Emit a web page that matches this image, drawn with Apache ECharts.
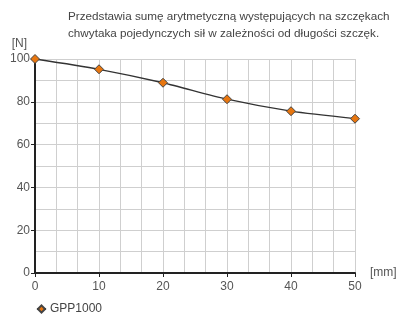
<!DOCTYPE html>
<html>
<head>
<meta charset="utf-8">
<script src="https://cdn.jsdelivr.net/npm/echarts@6/dist/echarts.min.js"></script>
<style>
  html, body { margin: 0; padding: 0; background: #fff; }
  #chart { width: 401px; height: 315px; }
</style>
</head>
<body>
<div id="chart"></div>
<script>
const lengths = [0, 10, 20, 30, 40, 50];
const forces = [100, 95.2, 88.9, 81.2, 75.6, 72.1];
const seriesName = 'GPP1000';
const titleLines = [
  'Przedstawia sumę arytmetyczną występujących na szczękach',
  'chwytaka pojedynczych sił w zależności od długości szczęk.'
];

let chart = echarts.init(document.getElementById('chart'));

const gridColor = '#cfcfcf';
const labelColor = '#555';

const option = {
  animation: false,
  textStyle: { fontFamily: 'Liberation Sans, Arial, sans-serif' },
  title: {
    text: titleLines.join('\n'),
    left: 63,
    top: 3,
    textStyle: { fontSize: 11.7, fontWeight: 'normal', color: '#444', lineHeight: 17 }
  },
  legend: {
    data: [seriesName],
    left: 31,
    top: 298,
    itemWidth: 9,
    itemHeight: 9,
    itemGap: 4,
    textStyle: { fontSize: 12, color: '#444', padding: [0, 0, 0, -1] }
  },
  grid: { left: 35, right: 46, top: 59, bottom: 42, containLabel: false },
  xAxis: {
    type: 'value',
    min: 0,
    max: 50,
    interval: 10,
    name: '[mm]',
    nameLocation: 'end',
    nameGap: 15,
    nameTextStyle: { fontSize: 12, color: labelColor, padding: [0, 0, 3, 0] },
    axisLine: { show: true, onZero: false, lineStyle: { color: '#222', width: 2 } },
    axisTick: { show: true, length: 4, lineStyle: { color: '#222', width: 1 } },
    axisLabel: { fontSize: 12, color: labelColor, margin: 8 },
    splitLine: { show: true, lineStyle: { color: gridColor, width: 1 } },
    minorTick: { show: false, splitNumber: 3 },
    minorSplitLine: { show: true, lineStyle: { color: gridColor, width: 1 } }
  },
  yAxis: {
    type: 'value',
    min: 0,
    max: 100,
    interval: 20,
    name: '[N]',
    nameLocation: 'end',
    nameGap: 9,
    nameTextStyle: { fontSize: 12, color: labelColor, align: 'right', padding: [0, 8, 0, 0] },
    axisLine: { show: true, lineStyle: { color: '#222', width: 2 } },
    axisTick: { show: true, length: 4, lineStyle: { color: '#222', width: 1 } },
    axisLabel: { fontSize: 12, color: labelColor, margin: 5 },
    splitLine: { show: true, lineStyle: { color: gridColor, width: 1 } },
    minorTick: { show: false, splitNumber: 2 },
    minorSplitLine: { show: true, lineStyle: { color: gridColor, width: 1 } }
  },
  series: [{
    name: seriesName,
    type: 'line',
    data: lengths.map((x, i) => [x, forces[i]]),
    smooth: 0.25,
    symbol: 'diamond',
    symbolSize: 9,
    itemStyle: { color: '#e8760f', borderColor: '#444', borderWidth: 1 },
    lineStyle: { color: '#333', width: 1.3 },
    z: 3
  }]
};

chart.setOption(option);
</script>
</body>
</html>
